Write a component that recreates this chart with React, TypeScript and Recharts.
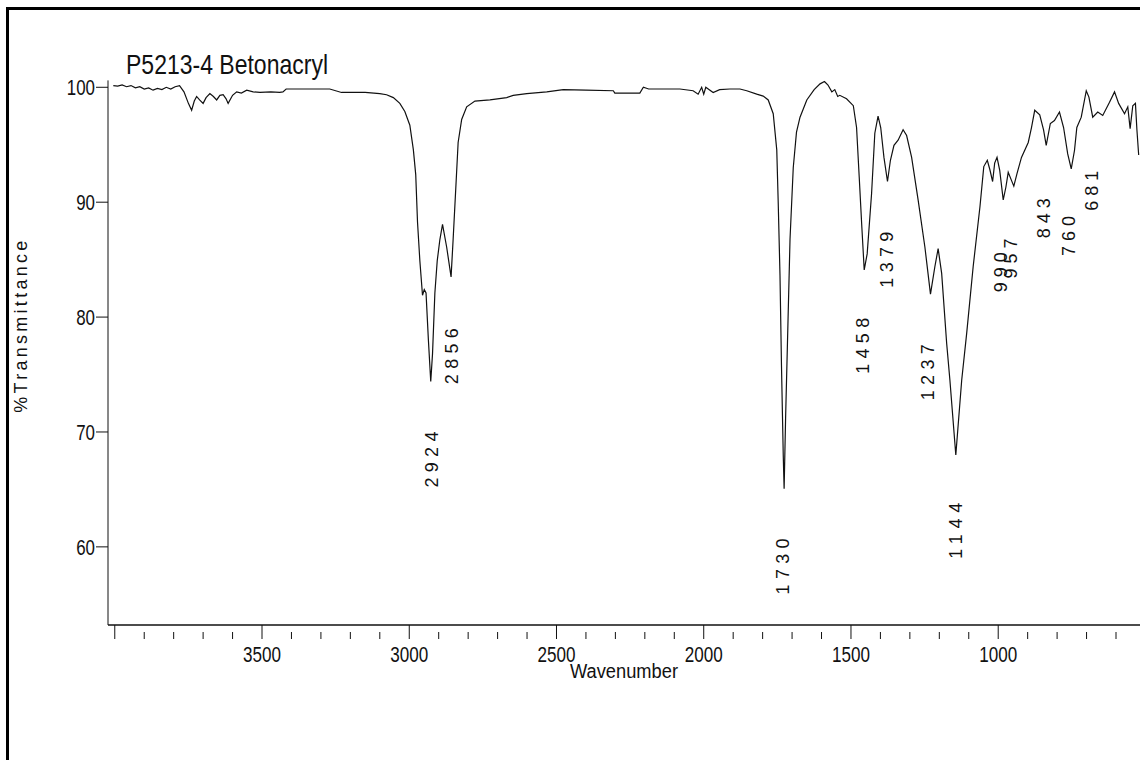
import React from "react";
import { ComposedChart, Line, XAxis, YAxis, ReferenceDot } from "recharts";

// IR spectrum (cm-1 vs %T)
const wavenumbers = [
  4005, 3990, 3975, 3960, 3945, 3930, 3915, 3900, 3885, 3870, 3855, 3840, 3825, 3810, 3795, 3780,
  3765, 3750, 3739, 3730, 3722, 3712, 3700, 3690, 3677, 3665, 3654, 3643, 3632, 3622, 3615, 3600,
  3586, 3570, 3552, 3530, 3507, 3470, 3440, 3429, 3418, 3350, 3300, 3270, 3230, 3200, 3150, 3100,
  3077, 3054, 3032, 3015, 2998, 2986, 2978, 2972, 2964, 2955, 2949, 2943, 2935, 2927, 2921, 2913,
  2905, 2896, 2887, 2873, 2858, 2851, 2841, 2834, 2822, 2805, 2777, 2726, 2669, 2647, 2601, 2533,
  2477, 2400, 2307, 2302, 2217, 2205, 2187, 2137, 2081, 2036, 2019, 2007, 2000, 1993, 1968, 1946,
  1911, 1877, 1854, 1820, 1798, 1781, 1764, 1752, 1747, 1741, 1736, 1730, 1727, 1722, 1716, 1707,
  1696, 1685, 1673, 1650, 1625, 1605, 1590, 1578, 1565, 1555, 1545, 1538, 1515, 1492, 1481, 1472,
  1463, 1455, 1445, 1430, 1419, 1408, 1399, 1388, 1376, 1366, 1354, 1340, 1323, 1311, 1294, 1272,
  1249, 1230, 1215, 1204, 1192, 1175, 1164, 1144, 1124, 1107, 1085, 1062, 1049, 1037, 1028, 1019,
  1012, 1004, 995, 983, 974, 966, 955, 947, 936, 921, 898, 887, 876, 859, 846, 837,
  823, 809, 792, 778, 764, 752, 741, 733, 718, 701, 692, 679, 662, 645, 622, 605,
  591, 571, 560, 552, 543, 534, 529, 523,
];

const transmittance = [
  100.15, 100.1, 100.2, 100.05, 100.15, 99.95, 100.05, 99.85, 99.95, 99.75, 99.9, 99.8, 100.0, 99.85, 100.05, 100.15,
  99.6, 98.6, 98.0, 98.8, 99.2, 98.9, 98.6, 99.1, 99.45, 99.2, 98.9, 99.3, 99.35, 99.0, 98.6, 99.3,
  99.6, 99.5, 99.75, 99.6, 99.55, 99.6, 99.55, 99.6, 99.85, 99.85, 99.85, 99.85, 99.55, 99.55, 99.55, 99.45,
  99.35, 99.1, 98.6, 97.9, 96.7, 94.55, 92.4, 88.3, 84.9, 81.9, 82.4, 82.1, 78.0, 74.4, 76.8, 82.1,
  84.9, 86.75, 88.06, 86.1, 83.5, 86.75, 91.7, 95.2, 97.2, 98.3, 98.8, 98.9, 99.1, 99.3, 99.45, 99.6,
  99.8, 99.75, 99.7, 99.5, 99.5, 100.0, 99.85, 99.85, 99.85, 99.7, 99.4, 100.0, 99.4, 100.0, 99.55, 99.8,
  99.85, 99.85, 99.7, 99.4, 99.23, 98.9, 97.7, 94.55, 89.9, 83.6, 75.8, 68.0, 65.07, 71.2, 77.4, 86.75,
  93.0, 96.1, 97.4, 98.9, 99.8, 100.3, 100.5, 100.2, 99.6, 99.8, 99.2, 99.3, 99.0, 98.4, 96.5, 92.2,
  87.8, 84.1, 85.5, 90.75, 96.0, 97.5, 96.5, 93.9, 91.8, 93.65, 94.95, 95.4, 96.3, 95.8, 93.9, 90.2,
  86.1, 82.0, 84.4, 85.96, 83.8, 77.7, 74.5, 68.0, 74.5, 78.6, 84.4, 89.6, 93.1, 93.65, 92.8, 91.8,
  93.4, 93.9, 92.8, 90.2, 91.3, 92.6, 91.9, 91.4, 92.5, 93.9, 95.2, 96.5, 98.0, 97.6, 96.3, 94.95,
  96.85, 97.1, 97.85, 96.5, 94.2, 92.9, 94.5, 96.5, 97.4, 99.7, 99.15, 97.4, 97.85, 97.55, 98.7, 99.6,
  98.6, 97.7, 98.3, 96.4, 98.4, 98.6, 96.3, 94.1,
];

const xTicks = [
  4000, 3900, 3800, 3700, 3600, 3500, 3400, 3300, 3200, 3100, 3000, 2900, 2800, 2700, 2600, 2500,
  2400, 2300, 2200, 2100, 2000, 1900, 1800, 1700, 1600, 1500, 1400, 1300, 1200, 1100, 1000, 900,
  800, 700, 600,
];
const majorTicks = [4000, 3500, 3000, 2500, 2000, 1500, 1000];
const labelledTicks = [3500, 3000, 2500, 2000, 1500, 1000];
const yTicks = [60, 70, 80, 90, 100];

const peakLabels = ["2924", "2856", "1730", "1458", "1379", "1237", "1144", "990", "957", "843", "760", "681"];
// %T level at the middle of each rotated label
const peakLabelLevels = [67.6, 76.6, 58.3, 77.5, 85.0, 75.2, 61.4, 83.9, 85.1, 88.6, 87.05, 91.0];

const FONT = '"Liberation Sans", Arial, sans-serif';

const spectrum = wavenumbers.map((wn, i) => ({ wn, t: transmittance[i] }));

const XTick = (props: any) => {
  const { x, y, payload } = props;
  const v = payload.value;
  const major = majorTicks.includes(v);
  return (
    <g>
      <line x1={x} x2={x} y1={major ? y : y + 7} y2={y + 14} stroke="#111" strokeWidth={1} />
      {labelledTicks.includes(v) && (
        <text
          x={x}
          y={y + 37}
          textAnchor="middle"
          fontSize={22}
          fontFamily={FONT}
          textLength={38}
          lengthAdjust="spacingAndGlyphs"
          fill="#111"
        >
          {v}
        </text>
      )}
    </g>
  );
};

const YTick = (props: any) => {
  const { x, y, payload } = props;
  const s = String(payload.value);
  return (
    <text
      x={x}
      y={y + 8}
      textAnchor="end"
      fontSize={22}
      fontFamily={FONT}
      textLength={9.4 * s.length}
      lengthAdjust="spacingAndGlyphs"
      fill="#111"
    >
      {s}
    </text>
  );
};

const PeakLabel = ({ cx, cy, text }: { cx: number; cy: number; text: string }) => (
  <text
    x={cx}
    y={cy}
    transform={`rotate(-90 ${cx} ${cy})`}
    textAnchor="middle"
    dominantBaseline="central"
    fontSize={18}
    fontFamily={FONT}
    textLength={text.length === 4 ? 56 : 40}
    lengthAdjust="spacing"
    fill="#111"
  >
    {text}
  </text>
);

const xLabel = (p: any) => {
  const vb = p.viewBox;
  return (
    <text
      x={vb.x + vb.width / 2}
      y={vb.y + 53}
      textAnchor="middle"
      fontSize={20}
      fontFamily={FONT}
      textLength={108}
      lengthAdjust="spacingAndGlyphs"
      fill="#111"
    >
      Wavenumber
    </text>
  );
};

const yLabel = (p: any) => {
  const vb = p.viewBox;
  const cx = 21;
  const cy = vb.y + vb.height / 2 - 26;
  return (
    <text
      x={cx}
      y={cy}
      transform={`rotate(-90 ${cx} ${cy})`}
      textAnchor="middle"
      dominantBaseline="central"
      fontSize={18}
      fontFamily={FONT}
      textLength={172}
      lengthAdjust="spacing"
      fill="#111"
    >
      %Transmittance
    </text>
  );
};

export default function App() {
  return (
    <div
      style={{
        position: "absolute",
        left: 0,
        top: 0,
        width: 1140,
        height: 760,
        overflow: "hidden",
        background: "#fff",
      }}
    >
      <div style={{ position: "absolute", left: 6, top: 7, width: 3, height: 760, background: "#000" }} />
      <div style={{ position: "absolute", left: 6, top: 7, width: 1140, height: 3, background: "#000" }} />
      <svg style={{ position: "absolute", left: 0, top: 0 }} width={1140} height={100}>
        <text
          x={126}
          y={74}
          fontSize={28}
          fontFamily={FONT}
          textLength={202}
          lengthAdjust="spacingAndGlyphs"
          fill="#111"
        >
          P5213-4 Betonacryl
        </text>
      </svg>
      <div style={{ position: "absolute", left: 0, top: 0 }}>
        <ComposedChart
          width={1140}
          height={760}
          data={spectrum}
          margin={{ top: 80.4, right: 0, left: 0, bottom: 0 }}
        >
          <XAxis
            dataKey="wn"
            type="number"
            domain={[518.5, 4023]}
            reversed
            allowDataOverflow
            ticks={xTicks}
            interval={0}
            tickSize={0}
            tickMargin={0}
            tickLine={false}
            tick={<XTick />}
            height={135}
            axisLine={{ stroke: "#111", strokeWidth: 1.5 }}
            label={xLabel}
          />
          <YAxis
            type="number"
            domain={[53.2, 100.6]}
            allowDataOverflow
            ticks={yTicks}
            interval={0}
            tickSize={12}
            tickMargin={1}
            tickLine={{ stroke: "#111" }}
            tick={<YTick />}
            width={108}
            axisLine={{ stroke: "#111" }}
            label={yLabel}
          />
          <Line
            type="linear"
            dataKey="t"
            stroke="#111"
            strokeWidth={1.2}
            dot={false}
            activeDot={false}
            isAnimationActive={false}
          />
          {peakLabels.map((lab, i) => (
            <ReferenceDot
              key={lab}
              x={Number(lab)}
              y={peakLabelLevels[i]}
              r={0}
              ifOverflow="visible"
              shape={(p: any) => <PeakLabel cx={p.cx} cy={p.cy} text={lab} />}
            />
          ))}
        </ComposedChart>
      </div>
    </div>
  );
}
